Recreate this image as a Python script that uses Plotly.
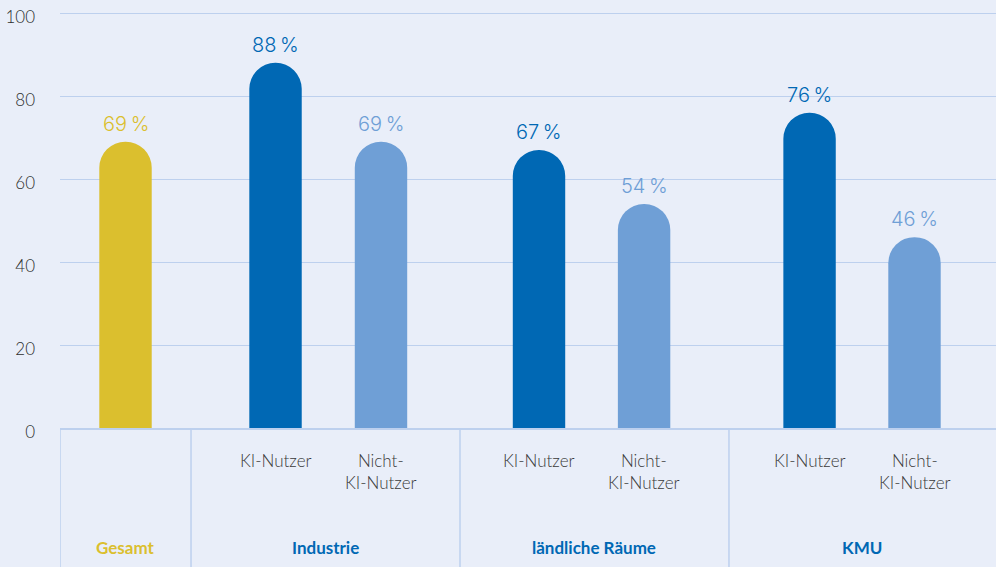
import plotly.graph_objects as go

# --- data -------------------------------------------------------------
groups = ["Gesamt", "Industrie", "ländliche Räume", "KMU"]
bar_groups = ["Gesamt", "Industrie", "Industrie", "ländliche Räume",
              "ländliche Räume", "KMU", "KMU"]
bar_labels = ["", "KI-Nutzer", "Nicht-<br>KI-Nutzer", "KI-Nutzer",
              "Nicht-<br>KI-Nutzer", "KI-Nutzer", "Nicht-<br>KI-Nutzer"]
bar_kinds = ["total", "user", "nonuser", "user", "nonuser", "user", "nonuser"]
values = [69, 88, 69, 67, 54, 76, 46]
y_ticks = [0, 20, 40, 60, 80, 100]

# --- styling ----------------------------------------------------------
BG = "#e9eef9"
GRID = "#bdd0ee"
GOLD = "#dbbf2e"
DARK = "#0068b4"
LIGHT = "#6f9fd6"
TEXT = "#3a3a3a"
kind_color = {"total": GOLD, "user": DARK, "nonuser": LIGHT}
group_color = {"Gesamt": GOLD, "Industrie": DARK,
               "ländliche Räume": DARK, "KMU": DARK}

# layout of the category boxes along a linear x axis
box_width = {"Gesamt": 1.0, "Industrie": 2.053, "ländliche Räume": 2.053, "KMU": 2.038}
slot_offsets = {"Gesamt": [0.5], "Industrie": [0.645, 1.45],
                "ländliche Räume": [0.603, 1.405], "KMU": [0.615, 1.416]}
BAR_W = 0.4

box_start = {}
cursor = 0.0
for g in groups:
    box_start[g] = cursor
    cursor += box_width[g]
x_total = cursor

x_pos = []
for g in groups:
    idx = [i for i, bg in enumerate(bar_groups) if bg == g]
    for off, i in zip(slot_offsets[g], idx):
        x_pos.append((i, box_start[g] + off))
x_pos = [p for _, p in sorted(x_pos)]

colors = [kind_color[k] for k in bar_kinds]

fig = go.Figure(go.Bar(
    x=x_pos, y=values, width=BAR_W,
    marker=dict(color=colors, line=dict(width=0)),
    hoverinfo="skip",
))

annotations = []
# value labels above bars
for x, v, c in zip(x_pos, values, colors):
    annotations.append(dict(
        x=x, y=v, xref="x", yref="y", text=f"{v}\u202f%", showarrow=False,
        yanchor="bottom", yshift=4,
        font=dict(family="Inter", size=20, color=c, weight=300),
    ))
# sub-category labels under bars
for x, lab in zip(x_pos, bar_labels):
    if not lab:
        continue
    annotations.append(dict(
        x=x, y=0, xref="x", yref="paper", text=lab, showarrow=False,
        yanchor="top", yshift=-20,
        font=dict(family="Lato", size=17, color=TEXT, weight=300),
    ))
# group labels
for g in groups:
    annotations.append(dict(
        x=box_start[g] + box_width[g] / 2, y=0, xref="x", yref="paper",
        text=f"<b>{g}</b>", showarrow=False, yanchor="middle", yshift=-119,
        font=dict(family="Lato", size=17, color=group_color[g]),
    ))

# vertical separators of the category boxes
shapes = []
for g in groups:
    shapes.append(dict(
        type="line", xref="x", yref="paper",
        x0=box_start[g], x1=box_start[g], y0=0, y1=-0.5,
        line=dict(color=GRID, width=1.5),
    ))

fig.update_layout(
    width=996, height=567, autosize=False,
    margin=dict(l=60, r=0, t=11, b=139),
    paper_bgcolor=BG, plot_bgcolor=BG,
    showlegend=False,
    barcornerradius="50%",
    annotations=annotations,
    shapes=shapes,
    xaxis=dict(range=[0, x_total], showgrid=False, showticklabels=False,
               zeroline=False, showline=True, linecolor=GRID, linewidth=1.5,
               ticks="", fixedrange=True),
    yaxis=dict(range=[0, 100.5], tickvals=y_ticks, showgrid=True,
               gridcolor=GRID, gridwidth=1.2, zeroline=False, showline=False,
               ticks="", ticklabelstandoff=24, ticklabelshift=4,
               ticklabeloverflow="allow",
               tickfont=dict(family="Lato", size=17, color="#2e2e2e", weight=300),
               fixedrange=True),
)

fig.write_html("out.html")
